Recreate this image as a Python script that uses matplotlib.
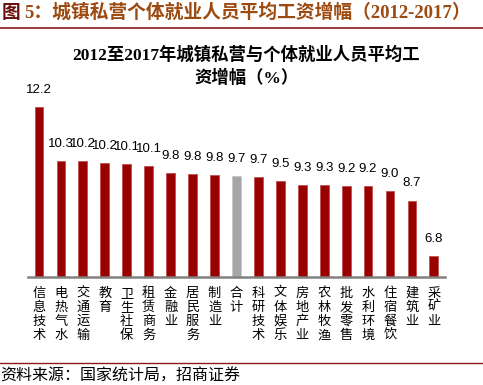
import matplotlib.pyplot as plt

plt.rcParams['font.family'] = ['Noto Sans CJK SC', 'DejaVu Sans']

industries = ['信息技术', '电热气水', '交通运输', '教育', '卫生社保', '租赁商务',
              '金融业', '居民服务', '制造业', '合计', '科研技术', '文体娱乐',
              '房地产业', '农林牧渔', '批发零售', '水利环境', '住宿餐饮', '建筑业', '采矿业']
growth = [12.2, 10.3, 10.2, 10.2, 10.1, 10.1, 9.8, 9.8, 9.8, 9.7,
          9.7, 9.5, 9.3, 9.3, 9.2, 9.2, 9.0, 8.7, 6.8]
heights = [12.2, 10.22, 10.21, 10.15, 10.1, 10.05, 9.78, 9.74, 9.72, 9.68,
           9.64, 9.5, 9.35, 9.35, 9.3, 9.3, 9.12, 8.78, 6.77]

fig = plt.figure(figsize=(4.83, 3.85), dpi=100)

# page header
fig.text(0.004, 0.968, '图', color='#6B0F0F', fontsize=13.5, fontweight='bold', va='center')
fig.text(0.05, 0.968, '5：城镇私营个体就业人员平均工资增幅（2012-2017）', color='#9C4A10',
         fontsize=13.5, fontweight='bold', va='center', family=['Liberation Serif', 'Noto Sans CJK SC'])
fig.add_artist(plt.Line2D([0, 1], [0.928, 0.928], color='#8B1A1A', lw=1.2))

fig.text(0.51, 0.857, '2012至2017年城镇私营与个体就业人员平均工', ha='center', va='center',
         fontsize=12.5, fontweight='bold', family=['Liberation Serif', 'Noto Sans CJK SC'])
fig.text(0.51, 0.797, '资增幅（%）', ha='center', va='center',
         fontsize=12.5, fontweight='bold', family=['Liberation Serif', 'Noto Sans CJK SC'])

ax = fig.add_axes([0.058, 0.281, 0.863, 0.4985])
colors = ['#A6A6A6' if n == '合计' else '#990000' for n in industries]
edges = ['#C8C8C8' if n == '合计' else '#C05050' for n in industries]
x = range(len(industries))
ax.bar(x, [h - 6 for h in heights], bottom=6, width=0.4, color=colors,
       edgecolor=edges, linewidth=0.6)
for i, (h, v) in enumerate(zip(heights, growth)):
    ax.annotate(f'{v:.1f}', (i, h), xytext=(0, 8), textcoords='offset points',
                ha='center', va='bottom', fontsize=9.5, family='Liberation Sans')

ax.set_xlim(-0.5, len(industries) - 0.5)
ax.set_ylim(6, 13)
for s in ['top', 'right', 'left']:
    ax.spines[s].set_visible(False)
ax.spines['bottom'].set_color('#808080')
ax.spines['bottom'].set_linewidth(1.8)
ax.set_yticks([])
ax.set_xticks(list(x))
ax.set_xticklabels(['\n'.join(n) for n in industries], fontsize=9.5, linespacing=1.12,
                   va='top')
ax.tick_params(axis='x', length=0, pad=7)

fig.add_artist(plt.Line2D([0, 1], [0.057, 0.057], color='#8B1A1A', lw=1.0))
fig.text(0.0, 0.024, '资料来源：国家统计局，招商证券', fontsize=11.5, va='center')

fig.savefig('out.png', dpi=100)
